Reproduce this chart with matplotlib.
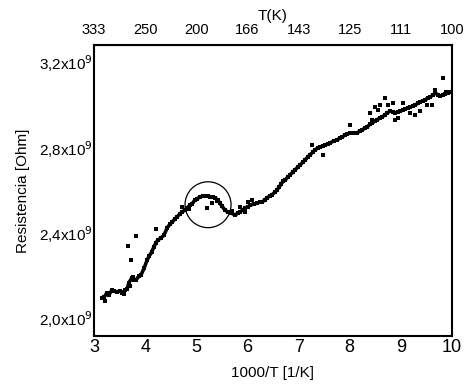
import matplotlib
matplotlib.use("Agg")
import matplotlib.pyplot as plt
from matplotlib.patches import Ellipse

plt.rcParams['font.family'] = ['Liberation Sans', 'DejaVu Sans']

# main trace: 1000/T [1/K] and resistance [1e9 Ohm]
inv_t = [3.16, 3.20, 3.25, 3.29, 3.35, 3.39, 3.45, 3.51, 3.55, 3.61, 3.65, 3.68, 3.74, 3.78,
         3.82, 3.88, 3.92, 3.98, 4.04, 4.08, 4.13, 4.17, 4.21, 4.25, 4.31, 4.37, 4.43, 4.49,
         4.53, 4.58, 4.62, 4.68, 4.72, 4.78, 4.82, 4.88, 4.92, 4.97, 5.01, 5.07, 5.13, 5.17,
         5.23, 5.27, 5.33, 5.37, 5.42, 5.46, 5.50, 5.56, 5.62, 5.68, 5.76, 5.82, 5.85, 5.91,
         5.95, 6.01, 6.05, 6.13, 6.19, 6.25, 6.29, 6.34, 6.38, 6.44, 6.48, 6.54, 6.58, 6.62,
         6.66, 6.70, 6.74, 6.79, 6.83, 6.89, 6.93, 6.99, 7.03, 7.09, 7.13, 7.18, 7.22, 7.28,
         7.32, 7.38, 7.42, 7.48, 7.52, 7.58, 7.61, 7.69, 7.75, 7.81, 7.85, 7.91, 7.95, 8.01,
         8.04, 8.10, 8.14, 8.20, 8.24, 8.30, 8.34, 8.40, 8.44, 8.49, 8.53, 8.59, 8.63, 8.69,
         8.73, 8.79, 8.85, 8.89, 8.94, 8.98, 9.04, 9.08, 9.14, 9.18, 9.24, 9.28, 9.34, 9.37,
         9.43, 9.47, 9.53, 9.57, 9.63, 9.67, 9.73, 9.77, 9.82, 9.86, 9.92, 9.96]
resist = [2.094, 2.098, 2.117, 2.108, 2.131, 2.127, 2.122, 2.127, 2.117, 2.131, 2.136, 2.164,
          2.188, 2.178, 2.178, 2.197, 2.202, 2.234, 2.272, 2.291, 2.309, 2.333, 2.352, 2.366,
          2.375, 2.389, 2.422, 2.441, 2.450, 2.464, 2.473, 2.488, 2.497, 2.506, 2.516, 2.530,
          2.534, 2.553, 2.558, 2.567, 2.572, 2.572, 2.572, 2.567, 2.567, 2.563, 2.553, 2.539,
          2.525, 2.506, 2.497, 2.492, 2.483, 2.492, 2.497, 2.506, 2.516, 2.520, 2.530, 2.534,
          2.539, 2.544, 2.544, 2.553, 2.563, 2.572, 2.577, 2.591, 2.600, 2.614, 2.628, 2.642,
          2.647, 2.661, 2.670, 2.684, 2.694, 2.708, 2.717, 2.731, 2.741, 2.755, 2.764, 2.778,
          2.788, 2.797, 2.802, 2.806, 2.811, 2.816, 2.820, 2.830, 2.834, 2.844, 2.848, 2.858,
          2.863, 2.867, 2.867, 2.867, 2.867, 2.877, 2.881, 2.891, 2.895, 2.909, 2.914, 2.923,
          2.928, 2.938, 2.942, 2.952, 2.961, 2.970, 2.966, 2.961, 2.966, 2.970, 2.975, 2.980,
          2.984, 2.989, 2.994, 2.998, 3.008, 3.013, 3.017, 3.022, 3.031, 3.036, 3.045, 3.055,
          3.045, 3.041, 3.045, 3.050, 3.055, 3.059]

# scattered points off the main trace
out_inv_t = [3.82, 3.66, 3.72, 4.21, 4.72, 5.21, 5.31, 5.85, 6.01, 6.09, 5.95, 7.26, 7.48,
             8.01, 8.49, 8.59, 8.69, 8.85, 9.04, 9.82, 9.67, 9.51, 8.40, 8.55, 8.75, 8.94,
             9.18, 9.28, 9.37, 9.61, 9.88, 8.89, 8.44, 3.22, 3.30, 3.58, 3.70, 3.76, 4.86,
             5.40, 5.70]
out_resist = [2.384, 2.338, 2.272, 2.417, 2.520, 2.516, 2.539, 2.520, 2.544, 2.553, 2.497,
              2.811, 2.764, 2.905, 2.989, 2.998, 3.031, 3.008, 3.008, 3.125, 3.069, 2.998,
              2.961, 2.975, 2.998, 2.938, 2.961, 2.952, 2.970, 2.998, 3.059, 2.928, 2.928,
              2.080, 2.118, 2.112, 2.150, 2.192, 2.510, 2.548, 2.500]

x_ticks = [3, 4, 5, 6, 7, 8, 9, 10]
top_labels = ["333", "250", "200", "166", "143", "125", "111", "100"]
y_ticks = [2.0, 2.4, 2.8, 3.2]
y_labels = ["2,0x10$^{9}$", "2,4x10$^{9}$", "2,8x10$^{9}$", "3,2x10$^{9}$"]
circle_center = (5.23, 2.531)

fig = plt.figure(figsize=(4.73, 3.84), dpi=100)
ax = fig.add_axes([0.1987, 0.125, 0.7569, 0.7578])

ax.plot(inv_t, resist, color='black', lw=2.6, marker='s', ms=2.6, mew=0)
ax.scatter(out_inv_t, out_resist, s=6, marker='s', color='black', lw=0)
ax.add_patch(Ellipse(circle_center, 0.9, 0.215, fill=False, edgecolor='black', lw=0.9))

ax.set_xlim(3, 10)
ax.set_ylim(1.9156, 3.2797)
ax.set_xticks(x_ticks)
ax.set_xticklabels([str(t) for t in x_ticks], fontsize=13)
ax.set_yticks(y_ticks)
ax.set_yticklabels(y_labels, fontsize=11)
ax.tick_params(axis='both', length=0, pad=2)
ax.tick_params(axis='y', pad=1)
for s in ax.spines.values():
    s.set_linewidth(1.5)

ax.set_xlabel("1000/T [1/K]", fontsize=11, labelpad=7)
ax.set_ylabel("Resistencia [Ohm]", fontsize=11, labelpad=6)

top = ax.secondary_xaxis('top')
top.set_xticks(x_ticks)
top.set_xticklabels(top_labels, fontsize=10.5)
top.tick_params(length=0, pad=6)
top.set_xlabel("T(K)", fontsize=11, labelpad=2)

fig.savefig("out.png", dpi=100)
